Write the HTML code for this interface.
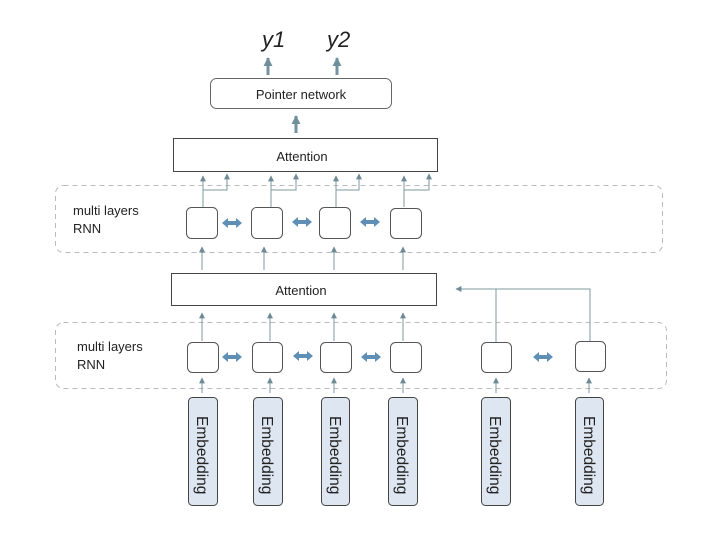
<!DOCTYPE html>
<html><head><meta charset="utf-8"><style>
html,body{margin:0;padding:0;background:#fff;}
svg{display:block;}
text{font-family:"Liberation Sans","DejaVu Sans",sans-serif;fill:#222;}
</style></head><body>
<svg width="706" height="539" viewBox="0 0 706 539" xmlns="http://www.w3.org/2000/svg">
<defs>
<marker id="a" viewBox="0 0 10 10" refX="9" refY="5" markerWidth="6" markerHeight="6" orient="auto"><path d="M0,0 L10,5 L0,10 z" fill="#6f8a96"/></marker>
<marker id="b" viewBox="0 0 10 10" refX="9" refY="5" markerWidth="3" markerHeight="3" orient="auto"><path d="M0,0 L10,5 L0,10 z" fill="#6f8f9a"/></marker>
<g id="dbl"><path d="M-10,0 L-4,-5 L-4,-2 L4,-2 L4,-5 L10,0 L4,5 L4,2 L-4,2 L-4,5 z" fill="#5f8fb5"/></g>
</defs>
<text x="262" y="47" font-size="22" font-style="italic">y1</text>
<text x="327" y="47" font-size="22" font-style="italic">y2</text>
<g stroke="#7592a2" stroke-width="3" fill="none">
<line x1="268" y1="75" x2="268" y2="58" marker-end="url(#b)"/>
<line x1="337" y1="75" x2="337" y2="58" marker-end="url(#b)"/>
<line x1="296" y1="133" x2="296" y2="116" marker-end="url(#b)"/>
</g>
<rect x="210.5" y="78.5" width="181" height="30" rx="6" fill="#fff" stroke="#666"/>
<text x="301" y="99" font-size="13" text-anchor="middle">Pointer network</text>
<rect x="173.5" y="138.5" width="264" height="33" fill="#fff" stroke="#444"/>
<text x="302" y="161" font-size="13" text-anchor="middle">Attention</text>
<rect x="55.5" y="185.5" width="607" height="67" rx="8" fill="none" stroke="#bbb" stroke-dasharray="5,4"/>
<rect x="55.5" y="322.5" width="611" height="66" rx="8" fill="none" stroke="#bbb" stroke-dasharray="5,4"/>
<text x="73" y="215" font-size="13">multi layers</text>
<text x="73" y="233" font-size="13">RNN</text>
<text x="77" y="351" font-size="13">multi layers</text>
<text x="77" y="369" font-size="13">RNN</text>
<g stroke="#555" fill="#fff">
<rect x="186.5" y="207.5" width="31" height="31" rx="5"/>
<rect x="251.5" y="207.5" width="31" height="31" rx="5"/>
<rect x="319.5" y="207.5" width="31" height="31" rx="5"/>
<rect x="390.5" y="208.5" width="31" height="30" rx="5"/>
</g>
<g stroke="#7f9a9f" stroke-width="1" fill="none">
<line x1="203" y1="207" x2="203" y2="176" marker-end="url(#a)"/>
<polyline points="203,190 227,190 227,174" marker-end="url(#a)"/>
<line x1="271" y1="207" x2="271" y2="176" marker-end="url(#a)"/>
<polyline points="271,190 296,190 296,174" marker-end="url(#a)"/>
<line x1="336" y1="207" x2="336" y2="176" marker-end="url(#a)"/>
<polyline points="336,190 359,190 359,174" marker-end="url(#a)"/>
<line x1="404" y1="207" x2="404" y2="176" marker-end="url(#a)"/>
<polyline points="404,190 429,190 429,174" marker-end="url(#a)"/>
<line x1="202" y1="270" x2="202" y2="247" marker-end="url(#a)"/>
<line x1="264" y1="270" x2="264" y2="247" marker-end="url(#a)"/>
<line x1="334" y1="270" x2="334" y2="247" marker-end="url(#a)"/>
<line x1="403" y1="270" x2="403" y2="247" marker-end="url(#a)"/>
</g>
<use href="#dbl" x="232" y="223"/>
<use href="#dbl" x="302" y="222"/>
<use href="#dbl" x="370" y="222"/>
<rect x="171.5" y="273.5" width="265" height="32" fill="#fff" stroke="#444"/>
<text x="301" y="295" font-size="13" text-anchor="middle">Attention</text>
<g stroke="#7f9a9f" stroke-width="1" fill="none">
<line x1="202" y1="341" x2="202" y2="313" marker-end="url(#a)"/>
<line x1="270" y1="341" x2="270" y2="313" marker-end="url(#a)"/>
<line x1="334" y1="341" x2="334" y2="313" marker-end="url(#a)"/>
<line x1="403" y1="341" x2="403" y2="313" marker-end="url(#a)"/>
<polyline points="496,342 496,289 456,289" marker-end="url(#a)"/>
<polyline points="496,289 590,289 590,342"/>
<line x1="202" y1="393" x2="202" y2="378" marker-end="url(#a)"/>
<line x1="270" y1="393" x2="270" y2="378" marker-end="url(#a)"/>
<line x1="334" y1="393" x2="334" y2="378" marker-end="url(#a)"/>
<line x1="403" y1="393" x2="403" y2="378" marker-end="url(#a)"/>
<line x1="496" y1="393" x2="496" y2="378" marker-end="url(#a)"/>
<line x1="589" y1="393" x2="589" y2="378" marker-end="url(#a)"/>
</g>
<g stroke="#555" fill="#fff">
<rect x="187.5" y="342.5" width="31" height="30" rx="5"/>
<rect x="252.5" y="342.5" width="30" height="30" rx="5"/>
<rect x="320.5" y="342.5" width="31" height="30" rx="5"/>
<rect x="390.5" y="342.5" width="31" height="30" rx="5"/>
<rect x="481.5" y="342.5" width="30" height="30" rx="5"/>
<rect x="575.5" y="341.5" width="30" height="30" rx="5"/>
</g>
<use href="#dbl" x="232" y="357"/>
<use href="#dbl" x="303" y="356"/>
<use href="#dbl" x="371" y="357"/>
<use href="#dbl" x="543" y="357"/>
<g stroke="#444" fill="#dde6f1">
<rect x="188.5" y="397.5" width="29" height="108" rx="4"/>
<rect x="253.5" y="397.5" width="29" height="108" rx="4"/>
<rect x="321.5" y="397.5" width="28" height="108" rx="4"/>
<rect x="388.5" y="397.5" width="29" height="108" rx="4"/>
<rect x="481.5" y="397.5" width="29" height="108" rx="4"/>
<rect x="575.5" y="397.5" width="28" height="108" rx="4"/>
</g>
<g font-size="15.5">
<text transform="translate(197,416) rotate(90)">Embedding</text>
<text transform="translate(262,416) rotate(90)">Embedding</text>
<text transform="translate(330,416) rotate(90)">Embedding</text>
<text transform="translate(397,416) rotate(90)">Embedding</text>
<text transform="translate(490,416) rotate(90)">Embedding</text>
<text transform="translate(584,416) rotate(90)">Embedding</text>
</g>
</svg>
</body></html>
